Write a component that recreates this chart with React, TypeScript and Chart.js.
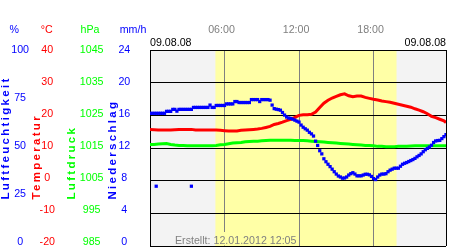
import React, { useEffect, useRef } from 'react';
import { Chart, registerables } from 'chart.js';

Chart.register(...registerables);

// ---------- data ----------
// humidity (%) every 10 minutes from 00:00 to 23:50
const humidityStepMinutes = 10;
const humidity = [
  67.7, 67.7, 67.7, 67.7, 67.7, 67.7, 67.7, 67.7, 68.7, 68.7,
  68.7, 69.7, 69.7, 68.8, 69.7, 69.7, 69.7, 69.7, 69.7, 69.7,
  69.7, 70.7, 70.7, 70.7, 70.7, 70.7, 70.7, 70.7, 70.7, 71.9,
  70.7, 70.7, 71.7, 71.7, 71.7, 71.7, 71.7, 72.5, 72.5, 72.5,
  72.5, 73.7, 73.7, 73.2, 73.2, 73.2, 73.2, 73.2, 73.2, 74.7,
  74.7, 74.7, 74.7, 73.7, 74.7, 74.7, 74.7, 74.7, 74.4, 71.9,
  70.1, 69.8, 69.6, 69.3, 68.1, 66.8, 65.8, 65.3, 65.1, 64.7,
  64.2, 63.7, 63.2, 61.7, 60.6, 59.8, 59.1, 58.0, 57.2, 56.1,
  53.5, 51.3, 48.6, 47.0, 44.5, 43.0, 41.7, 40.5, 39.2, 37.9,
  36.7, 35.7, 35.2, 34.6, 34.7, 35.2, 36.2, 36.9, 37.4, 36.7,
  35.8, 35.8, 35.8, 36.2, 36.6, 36.6, 36.3, 35.5, 34.4, 33.9,
  35.2, 36.2, 36.7, 36.7, 36.9, 37.9, 38.7, 39.2, 39.7, 39.7,
  39.7, 40.7, 41.7, 42.2, 42.6, 43.1, 43.6, 44.1, 44.7, 45.5,
  46.2, 47.0, 48.1, 49.1, 49.8, 50.5, 51.4, 52.8, 53.6, 53.8,
  53.9, 54.8, 55.8, 56.8,
];
// isolated humidity readings
const humidityOutlierMinutes = [30, 200];
const humidityOutlierValues = [30.5, 30.5];

// temperature / pressure: every 20 minutes 00:00..23:40, plus 23:50
const tempPressMinutes = [
  ...Array.from({ length: 72 }, (_, i) => i * 20),
  1430,
];
const temperature = [
  15.7, 15.6, 15.5, 15.5, 15.5, 15.5, 15.6, 15.7, 15.7, 15.7,
  15.7, 15.5, 15.5, 15.5, 15.5, 15.5, 15.5, 15.4, 15.3, 15.2,
  15.2, 15.2, 15.4, 15.5, 15.6, 15.7, 15.8, 16.0, 16.3, 16.6,
  17.2, 17.5, 17.9, 18.4, 18.8, 19.4, 20.0, 20.2, 20.2, 20.3,
  21.0, 22.4, 23.7, 24.6, 25.3, 25.8, 26.3, 26.6, 26.0, 25.7,
  25.9, 25.9, 25.5, 25.2, 24.9, 24.7, 24.4, 24.2, 24.0, 23.7,
  23.4, 23.1, 22.8, 22.5, 22.0, 21.6, 21.1, 20.5, 19.7, 19.3,
  18.8, 18.3, 17.8,
];
const pressure = [
  1016.1, 1016.1, 1016.2, 1016.3, 1016.4, 1016.1, 1015.9, 1015.8, 1015.8, 1015.7,
  1015.7, 1015.7, 1015.7, 1015.7, 1015.7, 1015.7, 1015.8, 1016.0, 1016.1, 1016.3,
  1016.5, 1016.6, 1016.7, 1016.9, 1017.0, 1017.1, 1017.1, 1017.2, 1017.3, 1017.4,
  1017.4, 1017.4, 1017.4, 1017.4, 1017.4, 1017.3, 1017.3, 1017.3, 1017.2, 1017.1,
  1017.0, 1016.9, 1016.8, 1016.7, 1016.6, 1016.5, 1016.4, 1016.3, 1016.2, 1016.1,
  1016.0, 1015.9, 1015.8, 1015.8, 1015.7, 1015.5, 1015.5, 1015.4, 1015.4, 1015.4,
  1015.5, 1015.5, 1015.5, 1015.6, 1015.7, 1015.7, 1015.7, 1015.7, 1015.7, 1015.7,
  1015.7, 1015.7, 1015.7,
];

// axis tick labels
const humidityTicks = [100, 75, 50, 25, 0];
const temperatureTicks = [40, 30, 20, 10, 0, -10, -20];
const pressureTicks = [1045, 1035, 1025, 1015, 1005, 995, 985];
const rainTicks = [24, 20, 16, 12, 8, 4, 0];
const timeTickHours = [6, 12, 18];
const timeTickLabels = ['06:00', '12:00', '18:00'];
const axisUnits = ['%', '°C', 'hPa', 'mm/h'];
const axisTitles = ['Luftfeuchtigkeit', 'Temperatur', 'Luftdruck', 'Niederschlag'];
const dateLabel = '09.08.08';
const createdLabel = 'Erstellt: 12.01.2012 12:05';
const daylightMinutes = [316, 1191];
const lastMinute = 1430;

// ---------- styles ----------
const FONT = 'Liberation Sans';
const FS = 10.67;
const BLUE = '#0000ff';
const RED = '#ff0000';
const GREEN = '#00ff00';
const GRAY_TXT = '#808080';
const NIGHT = '#f3f3f3';
const DAY = '#ffffa6';
const LABEL_STRETCH = 199 / 194.5;
const X_MAX = lastMinute / 60;

function labelAxis(ticksArr: number[], color: string, weight: number, width: number, pad: number) {
  const max = Math.max(...ticksArr);
  const lo = Math.min(...ticksArr);
  const min = max - (max - lo) * LABEL_STRETCH;
  return {
    type: 'linear',
    position: 'left',
    weight,
    min,
    max,
    afterBuildTicks: (s: any) => {
      s.ticks = ticksArr.map((v) => ({ value: v }));
    },
    afterFit: (s: any) => {
      s.width = width;
      s.paddingTop = 0;
      s.paddingBottom = 0;
    },
    grid: { display: false, drawTicks: false },
    border: { display: false },
    ticks: {
      color,
      font: { family: FONT, size: FS },
      padding: pad,
      crossAlign: 'center',
      autoSkip: false,
      callback: (v: any) => String(v),
    },
  };
}

const bandPlugin = {
  id: 'bands',
  beforeDraw(chart: any) {
    const { ctx, chartArea: a, scales } = chart;
    const x = scales.x;
    ctx.save();
    ctx.fillStyle = NIGHT;
    ctx.fillRect(a.left, a.top, a.right - a.left, a.bottom - a.top);
    const x0 = x.getPixelForValue(daylightMinutes[0] / 60);
    const x1 = x.getPixelForValue(daylightMinutes[1] / 60);
    ctx.fillStyle = DAY;
    ctx.fillRect(x0, a.top, x1 - x0, a.bottom - a.top);
    ctx.restore();
  },
};

const textPlugin = {
  id: 'texts',
  afterDraw(chart: any) {
    const { ctx, chartArea: a, scales } = chart;
    const x = scales.x;
    ctx.save();
    ctx.font = `${FS}px "${FONT}"`;
    ctx.textBaseline = 'middle';
    ctx.textAlign = 'left';
    const unitX = [9.5, 40.7, 80.5, 119.7];
    const colors = [BLUE, RED, GREEN, BLUE];
    axisUnits.forEach((u, i) => {
      ctx.fillStyle = colors[i];
      ctx.fillText(u, unitX[i], 30.5);
    });
    // dates
    ctx.fillStyle = '#000';
    ctx.fillText(dateLabel, a.left, 43.5);
    ctx.textAlign = 'right';
    ctx.fillText(dateLabel, a.right, 43.5);
    // created text with background patch
    const px0 = 173, px1 = 298, py0 = 232, py1 = a.bottom - 0.5;
    const dx = x.getPixelForValue(daylightMinutes[0] / 60);
    ctx.fillStyle = NIGHT;
    ctx.fillRect(px0, py0, Math.min(dx, px1) - px0, py1 - py0);
    ctx.fillStyle = DAY;
    ctx.fillRect(dx, py0, px1 - dx, py1 - py0);
    ctx.textAlign = 'left';
    ctx.fillStyle = GRAY_TXT;
    ctx.fillText(createdLabel, 175, 240.7);
    // rotated titles
    const titleX = [9.3, 39.8, 74.8, 115.8];
    ctx.font = `bold 11.5px "${FONT}"`;
    ctx.textBaseline = 'alphabetic';
    (ctx as any).letterSpacing = '2.3px';
    axisTitles.forEach((t, i) => {
      ctx.save();
      ctx.translate(titleX[i], 199.5);
      ctx.rotate(-Math.PI / 2);
      ctx.fillStyle = colors[i];
      ctx.fillText(t, 0, 0);
      ctx.restore();
    });
    ctx.restore();
  },
};

export default function App() {
  const ref = useRef<HTMLCanvasElement>(null);
  useEffect(() => {
    document.body.style.margin = '0';
    const humPts = humidity.map((v, i) => ({ x: (i * humidityStepMinutes) / 60, y: v }));
    const outPts = humidityOutlierValues.map((v, i) => ({ x: humidityOutlierMinutes[i] / 60, y: v }));
    const tempPts = temperature.map((v, i) => ({ x: tempPressMinutes[i] / 60, y: v }));
    const presPts = pressure.map((v, i) => ({ x: tempPressMinutes[i] / 60, y: v }));
    const chart = new Chart(ref.current as HTMLCanvasElement, {
      type: 'line',
      data: {
        datasets: [
          {
            label: 'Luftfeuchtigkeit',
            data: humPts,
            yAxisID: 'yHum',
            showLine: false,
            pointStyle: 'rect',
            pointRadius: 2.3,
            pointBorderWidth: 0,
            pointBackgroundColor: BLUE,
            borderColor: BLUE,
          },
          {
            label: 'Luftfeuchtigkeit (einzeln)',
            data: outPts,
            yAxisID: 'yHum',
            showLine: false,
            pointStyle: 'rect',
            pointRadius: 2.3,
            pointBorderWidth: 0,
            pointBackgroundColor: BLUE,
            borderColor: BLUE,
          },
          {
            label: 'Temperatur',
            data: tempPts,
            yAxisID: 'yTemp',
            borderColor: RED,
            borderWidth: 3,
            pointRadius: 0,
            tension: 0,
            fill: false,
          },
          {
            label: 'Luftdruck',
            data: presPts,
            yAxisID: 'yPres',
            borderColor: GREEN,
            borderWidth: 3,
            pointRadius: 0,
            tension: 0,
            fill: false,
          },
        ],
      } as any,
      options: {
        animation: false,
        responsive: false,
        devicePixelRatio: 1,
        events: [],
        layout: { padding: { left: 0, top: 0, right: 1, bottom: 1 } },
        plugins: { legend: { display: false }, tooltip: { enabled: false }, title: { display: false } },
        scales: {
          x: {
            type: 'linear',
            position: 'top',
            min: 0,
            max: X_MAX,
            afterBuildTicks: (s: any) => {
              s.ticks = [0, ...timeTickHours, X_MAX].map((v) => ({ value: v }));
            },
            afterFit: (s: any) => {
              s.height = 50;
              s.paddingLeft = 0;
              s.paddingRight = 0;
            },
            ticks: {
              autoSkip: false,
              maxRotation: 0,
              minRotation: 0,
              padding: 13.3,
              labelOffset: -3,
              color: GRAY_TXT,
              font: { family: FONT, size: FS },
              callback: (v: any) => {
                const i = timeTickHours.indexOf(Number(v));
                return i >= 0 ? timeTickLabels[i] : '';
              },
            },
            grid: {
              drawTicks: false,
              lineWidth: 1,
              color: (c: any) => {
                const v = c.tick ? c.tick.value : -1;
                return v === 0 || v === X_MAX ? '#000000' : '#808080';
              },
            },
            border: { display: false },
          },
          yHumLbl: labelAxis(humidityTicks, BLUE, 4, 29, 0),
          yTempLbl: labelAxis(temperatureTicks, RED, 3, 26, 0),
          yPresLbl: labelAxis(pressureTicks, GREEN, 2, 48.5, 0),
          yRainLbl: labelAxis(rainTicks, BLUE, 1, 46.5, 19.75),
          yTemp: {
            type: 'linear',
            position: 'left',
            weight: 0,
            min: -20,
            max: 40,
            ticks: { display: false, stepSize: 10 },
            grid: { color: '#000000', lineWidth: 1, drawTicks: false },
            border: { display: false },
            afterFit: (s: any) => {
              s.width = 0;
              s.paddingTop = 0;
              s.paddingBottom = 0;
            },
          },
          yHum: { type: 'linear', display: false, min: 0, max: 100 },
          yPres: { type: 'linear', display: false, min: 985, max: 1045 },
        },
      } as any,
      plugins: [bandPlugin, textPlugin],
    });
    return () => chart.destroy();
  }, []);
  return <canvas ref={ref} width={450} height={250} style={{ display: 'block', width: 450, height: 250 }} />;
}
